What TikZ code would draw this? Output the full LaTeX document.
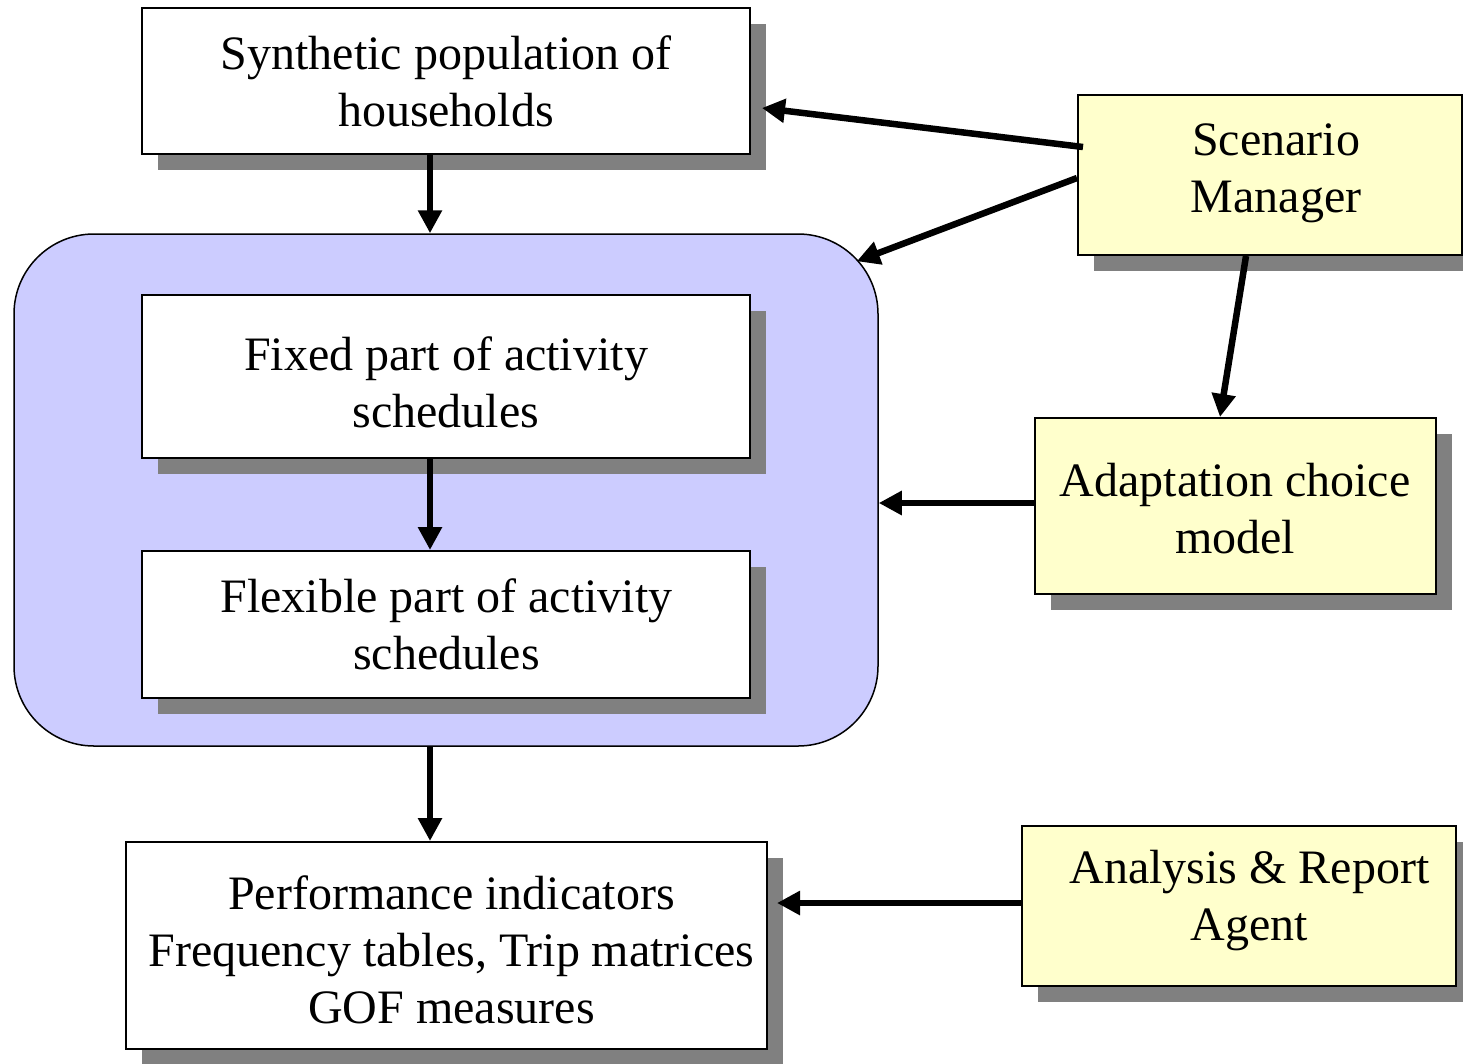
\documentclass[tikz,border=0pt]{standalone}
\usepackage{fontspec}
\setmainfont{Liberation Serif}
\usetikzlibrary{shadows,arrows.meta,calc}
\definecolor{grpblue}{RGB}{204,204,255}
\definecolor{boxyellow}{RGB}{255,255,204}
\definecolor{shadowgray}{RGB}{128,128,128}
\begin{document}
\begin{tikzpicture}[x=1pt,y=-1pt,
  box/.style={draw=black, line width=2pt, fill=white, inner sep=0pt,
    drop shadow={shadow xshift=16pt, shadow yshift=-16pt, opacity=1, fill=shadowgray}},
  ybox/.style={box, fill=boxyellow},
  lbl/.style={font=\fontsize{48}{57}\selectfont, align=center, inner sep=0pt},
  arr/.style={line width=6.5pt, -{Triangle[length=23pt,width=23pt]}}]
\useasboundingbox (0,0) rectangle (1463,1063);
\fill[white] (0,0) rectangle (1463,1063);

% group
\node[draw=black, line width=1.5pt, fill=grpblue, rounded corners=80pt,
      minimum width=864pt, minimum height=512pt] (grp) at (446,490) {};

% boxes
\node[box, minimum width=608pt, minimum height=146pt] (syn) at (446,81) {};
\node[ybox, minimum width=384pt, minimum height=160pt] (scen) at (1270,175) {};
\node[box, minimum width=608pt, minimum height=163pt] (fixed) at (446,376.5) {};
\node[box, minimum width=608pt, minimum height=147pt] (flex) at (446,624.5) {};
\node[ybox, minimum width=401pt, minimum height=176pt] (adapt) at (1235.5,506) {};
\node[box, minimum width=641pt, minimum height=207pt] (perf) at (446.5,945.5) {};
\node[ybox, minimum width=434pt, minimum height=160pt] (anal) at (1239,906) {};

% texts
\node[lbl] (synT) at (446,81) {Synthetic population of\\households};
\node[lbl] (scenT) at (1276,173) {Scenario\\Manager};
\node[lbl] (fixedT) at (446,382) {Fixed part of activity\\schedules};
\node[lbl] (flexT) at (446.5,624) {Flexible part of activity\\schedules};
\node[lbl] (adaptT) at (1235,509) {Adaptation choice\\model};
\node[lbl] (perfT) at (451.5,950) {Performance indicators\\Frequency tables, Trip matrices\\GOF measures};
\node[lbl] (analT) at (1249.5,901) {Analysis \& Report\\Agent};

% connectors
\draw[arr] ([xshift=-16pt]syn.south) -- ([xshift=-16pt]grp.north);
\draw[arr] ($(scen.west)+(6,-28)$) -- ($(syn.east)+(11,27)$);
\draw[arr] ($(scen.west)+(0,3)$) -- ($(grp.north east)+(-22,28)$);
\draw[arr] ($(scen.south)+(-24,0)$) -- ($(adapt.north)+(-15.5,0)$);
\draw[arr] ([yshift=3pt]adapt.west) -- ([yshift=-13pt]grp.east);
\draw[arr] ([xshift=-16pt]fixed.south) -- ([xshift=-16pt]flex.north);
\draw[arr] ([xshift=-16pt]grp.south) -- ([xshift=-16.5pt]perf.north);
\draw[arr] ([yshift=3pt]anal.west) -- ($(perf.east)+(9,-42.5)$);
\end{tikzpicture}
\end{document}
